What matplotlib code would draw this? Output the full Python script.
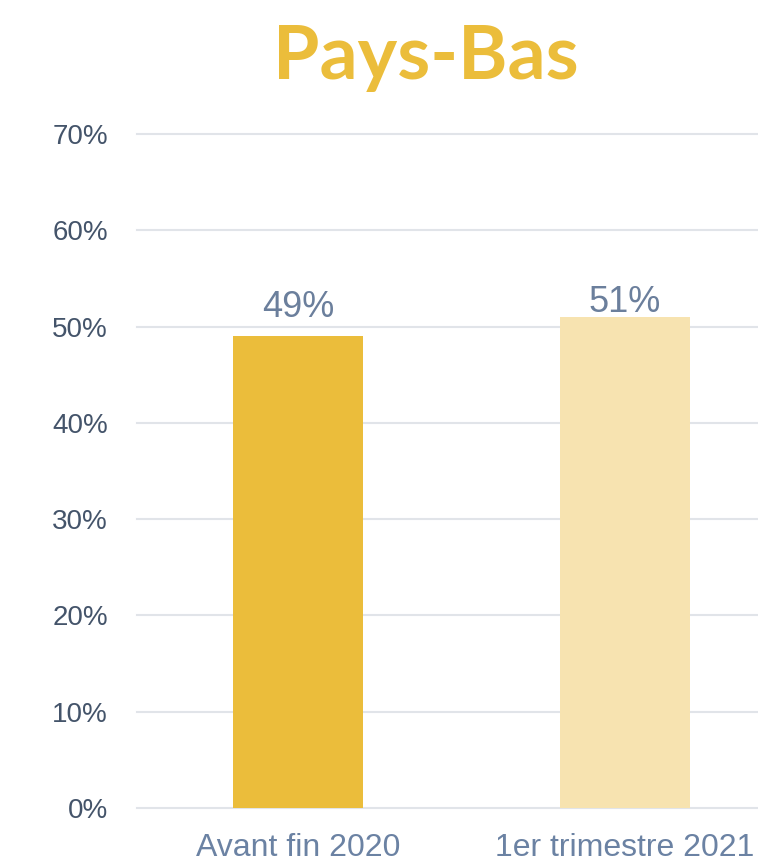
import matplotlib.pyplot as plt
from matplotlib.ticker import PercentFormatter

categories = ["Avant fin 2020", "1er trimestre 2021"]
values = [0.49, 0.51]
bar_colors = ["#EBBD3B", "#F7E3B0"]
title = "Pays-Bas"
yticks = [0, 0.1, 0.2, 0.3, 0.4, 0.5, 0.6, 0.7]
# gap between bar top and label baseline, in points (the original is not uniform)
label_gaps = [14, 4]

fig = plt.figure(figsize=(7.58, 8.66), dpi=100)
ax = fig.add_axes([0.181, 0.067, 0.819, 0.778])

x = list(range(len(categories)))
ax.bar(x, values, width=0.40, color=bar_colors, zorder=3)

# value labels above bars
for xi, v, gap in zip(x, values, label_gaps):
    ax.annotate(f"{v*100:.0f}%", (xi, v), xytext=(0, gap),
                textcoords="offset points", ha="center", va="baseline",
                fontsize=26, color="#6B7F9C", family="Liberation Sans", zorder=4)

ax.set_xlim(-0.492, 1.407)
ax.set_ylim(0, 0.70)
ax.set_yticks(yticks)
ax.yaxis.set_major_formatter(PercentFormatter(1.0, decimals=0))
ax.set_xticks(x)
ax.set_xticklabels(categories)

ax.grid(axis="y", color="#E1E4E9", linewidth=1.5, zorder=0)
for s in ax.spines.values():
    s.set_visible(False)
ax.tick_params(axis="both", length=0)
ax.tick_params(axis="y", pad=21, labelsize=20, labelcolor="#44546A")
ax.tick_params(axis="x", pad=18, labelsize=23, labelcolor="#6B82A3")
for lab in ax.get_xticklabels() + ax.get_yticklabels():
    lab.set_family("Liberation Sans")
for line in ax.get_ygridlines():
    line.set_clip_on(False)

fig.text(0.562, 0.934, title, ha="center", va="center", fontsize=54,
         fontweight="bold", color="#EBBD3B", family="Lato")

fig.savefig("out.png", dpi=100)
